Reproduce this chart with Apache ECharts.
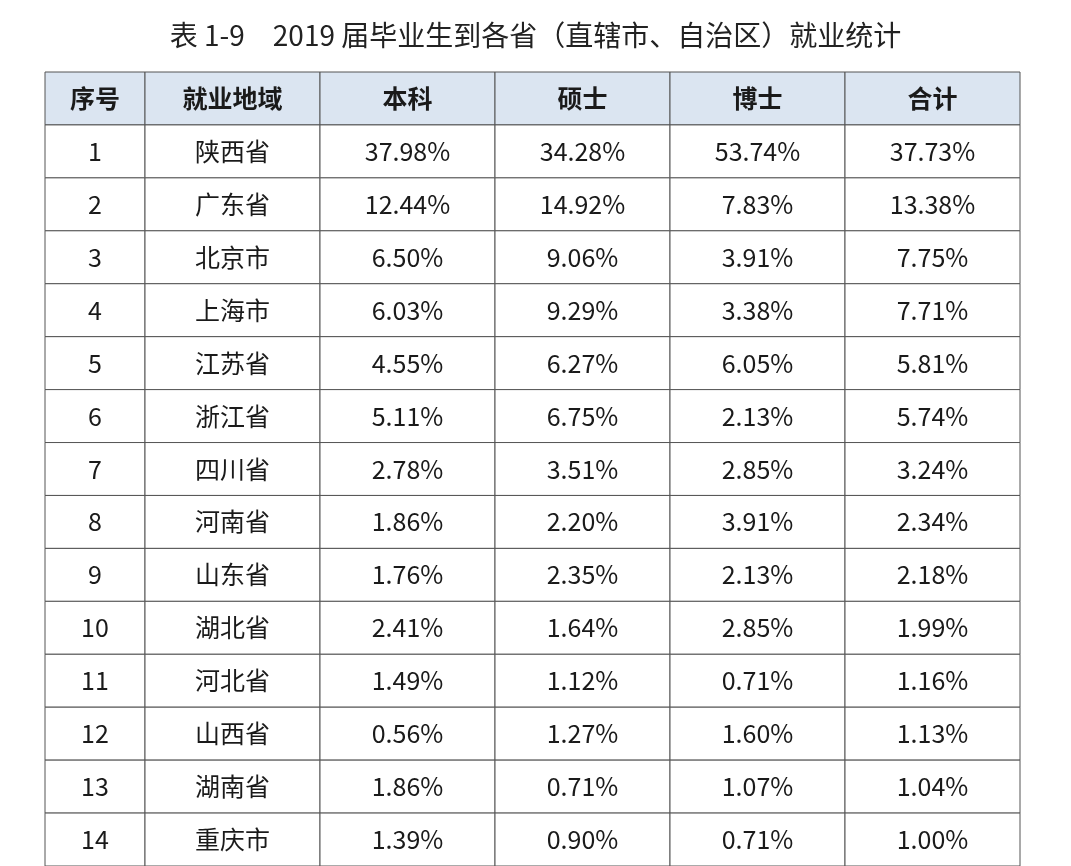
<!DOCTYPE html>
<html>
<head>
<meta charset="utf-8">
<script src="https://cdn.jsdelivr.net/npm/echarts@6/dist/echarts.min.js"></script>
<style>html,body{margin:0;padding:0;background:#fff}#chart{width:1071px;height:866px}</style>
</head>
<body>
<div id="chart"></div>
<script>
var headers = ['序号', '就业地域', '本科', '硕士', '博士', '合计'];
var regions = ['陕西省', '广东省', '北京市', '上海市', '江苏省', '浙江省', '四川省', '河南省', '山东省', '湖北省', '河北省', '山西省', '湖南省', '重庆市'];
var bachelor = ['37.98%', '12.44%', '6.50%', '6.03%', '4.55%', '5.11%', '2.78%', '1.86%', '1.76%', '2.41%', '1.49%', '0.56%', '1.86%', '1.39%'];
var master = ['34.28%', '14.92%', '9.06%', '9.29%', '6.27%', '6.75%', '3.51%', '2.20%', '2.35%', '1.64%', '1.12%', '1.27%', '0.71%', '0.90%'];
var doctor = ['53.74%', '7.83%', '3.91%', '3.38%', '6.05%', '2.13%', '2.85%', '3.91%', '2.13%', '2.85%', '0.71%', '1.60%', '1.07%', '0.71%'];
var total = ['37.73%', '13.38%', '7.75%', '7.71%', '5.81%', '5.74%', '3.24%', '2.34%', '2.18%', '1.99%', '1.16%', '1.13%', '1.04%', '1.00%'];
// 列宽（单位）
var colWidths = [4, 7, 7, 7, 7, 7];

var myChart = echarts.init(document.getElementById('chart'));
var rowNames = ['h'];
regions.forEach(function(r, i) { rowNames.push('r' + i); });

// 拼接单元格数据
var cells = [];
function addRow(rowIdx, texts, isHeader) {
	var x = 0;
	texts.forEach(function(t, c) {
		cells.push([x, x + colWidths[c], rowIdx, t, isHeader ? 1 : 0]);
		x += colWidths[c];
	});
}
addRow(0, headers, true);
regions.forEach(function(r, i) {
	addRow(i + 1, [String(i + 1), r, bachelor[i], master[i], doctor[i], total[i]], false);
});

var option = {
	title: {
		text: '表 1-9　2019 届毕业生到各省（直辖市、自治区）就业统计',
		left: 'center', top: 16,
		textStyle: { fontFamily: 'Noto Sans CJK SC', fontSize: 28, fontWeight: 'normal', color: '#222' }
	},
	grid: { left: 45, right: 51, top: 72, bottom: -1 },
	xAxis: { type: 'value', min: 0, max: 39, show: false },
	yAxis: { type: 'category', data: rowNames, inverse: true, show: false },
	series: [{
		type: 'custom',
		data: cells,
		renderItem: function(params, api) {
			var p0 = api.coord([api.value(0), api.value(2)]);
			var p1 = api.coord([api.value(1), api.value(2)]);
			var h = api.size([0, 1])[1];
			var header = api.value(4) === 1;
			return {
				type: 'group',
				children: [{
					type: 'rect',
					shape: { x: p0[0], y: p0[1] - h / 2, width: p1[0] - p0[0], height: h },
					style: { fill: header ? '#dbe5f1' : '#fff', stroke: '#555', lineWidth: 1 }
				}, {
					type: 'text',
					x: (p0[0] + p1[0]) / 2, y: p0[1],
					style: {
						text: api.value(3), align: 'center', verticalAlign: 'middle',
						fontFamily: 'Noto Sans CJK SC', fontSize: 25,
						fontWeight: header ? 'bold' : 'normal', fill: '#1a1a1a'
					}
				}]
			};
		}
	}]
};
myChart.setOption(option);
</script>
</body>
</html>
